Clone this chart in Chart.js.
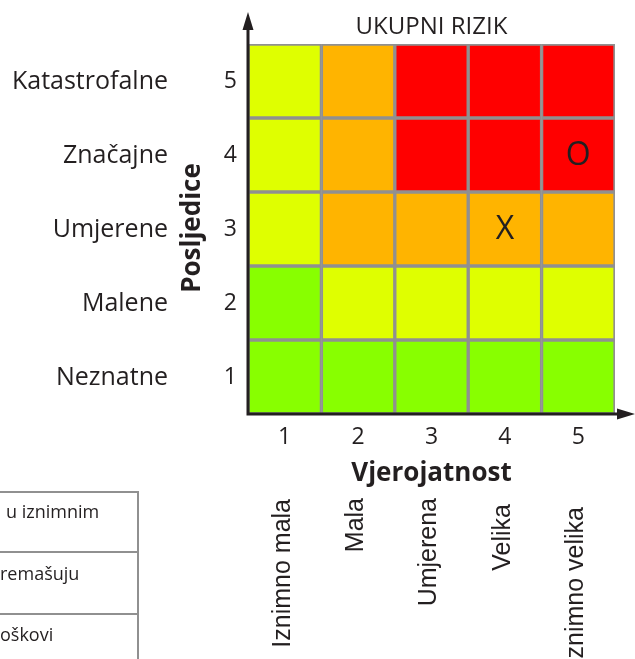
<!DOCTYPE html>
<html><head><meta charset="utf-8">
<script src="https://cdn.jsdelivr.net/npm/chart.js@4/dist/chart.umd.min.js"></script>
<style>html,body{margin:0;padding:0;background:#fff;overflow:hidden}#wrap{width:635px;height:659px;position:relative}</style>
</head><body><div id="wrap"><canvas id="c"></canvas></div>
<script>
const titleText = 'UKUPNI RIZIK';
const xTitle = 'Vjerojatnost';
const yTitle = 'Posljedice';
const probabilityLevels = ['1', '2', '3', '4', '5'];
const probabilityNames = ['Iznimno mala', 'Mala', 'Umjerena', 'Velika', 'Iznimno velika'];
const consequenceLevels = [1, 2, 3, 4, 5];
const consequenceNames = ['Neznatne', 'Malene', 'Umjerene', 'Značajne', 'Katastrofalne'];
// risk class of each cell; one array per consequence level, columns = probability 1..5
const riskRow1 = ['G', 'G', 'G', 'G', 'G'];
const riskRow2 = ['G', 'Y', 'Y', 'Y', 'Y'];
const riskRow3 = ['Y', 'O', 'O', 'O', 'O'];
const riskRow4 = ['Y', 'O', 'R', 'R', 'R'];
const riskRow5 = ['Y', 'O', 'R', 'R', 'R'];
const markerLabels = ['X', 'O'];
const markerProbability = ['4', '5'];
const markerConsequence = [3, 4];
const tableTexts = ['u iznimnim', 'remašuju', 'oškovi'];

const palette = { G: '#88ff00', Y: '#dfff00', O: '#ffb400', R: '#ff0000' };
const riskRows = [riskRow1, riskRow2, riskRow3, riskRow4, riskRow5];
const INK = '#231f20';
const FONT = '"Open Sans"';
const nameTops = [499, 498, 498, 504, 507]; // layout: top end of each rotated label

const datasets = consequenceLevels.map((lvl, i) => ({
  type: 'bar',
  data: probabilityLevels.map(() => [lvl - 0.5, lvl + 0.5]),
  backgroundColor: riskRows[i].map(k => palette[k]),
  borderColor: '#909090',
  borderWidth: 2,
  borderSkipped: false,
  grouped: false,
  barPercentage: 1,
  categoryPercentage: 1,
  order: 2
}));
datasets.push({
  type: 'scatter',
  data: markerLabels.map((l, i) => ({ x: markerProbability[i], y: markerConsequence[i] })),
  pointRadius: 0,
  showLine: false,
  order: 1
});

const deco = {
  id: 'deco',
  afterDraw(chart) {
    const ctx = chart.ctx, a = chart.chartArea;
    const xs = chart.scales.x, ys = chart.scales.y;
    ctx.save();
    ctx.fillStyle = INK;
    // axes with arrows
    ctx.strokeStyle = INK; ctx.lineWidth = 3;
    ctx.beginPath();
    ctx.moveTo(a.left, a.bottom + 1.5); ctx.lineTo(a.left, 28);
    ctx.moveTo(a.left - 1.5, a.bottom); ctx.lineTo(620, a.bottom);
    ctx.stroke();
    ctx.beginPath();
    ctx.moveTo(a.left, 12); ctx.lineTo(a.left - 5.5, 30); ctx.lineTo(a.left + 5.5, 30); ctx.closePath();
    ctx.moveTo(635, a.bottom); ctx.lineTo(617, a.bottom - 5.5); ctx.lineTo(617, a.bottom + 5.5); ctx.closePath();
    ctx.fill();
    // title
    ctx.textAlign = 'center'; ctx.textBaseline = 'middle';
    ctx.font = '24px ' + FONT;
    ctx.fillText(titleText, (a.left + a.right) / 2, 27);
    // markers
    const meta = chart.getDatasetMeta(chart.data.datasets.length - 1);
    ctx.font = '32px ' + FONT;
    meta.data.forEach((p, i) => ctx.fillText(markerLabels[i], p.x, p.y + 1));
    // x title
    ctx.font = 'bold 26px ' + FONT;
    ctx.fillText(xTitle, (a.left + a.right) / 2, 474);
    // y title
    ctx.save();
    ctx.translate(193, 228); ctx.rotate(-Math.PI / 2);
    ctx.fillText(yTitle, 0, 0);
    ctx.restore();
    // consequence names
    ctx.font = '25px ' + FONT; ctx.textAlign = 'right';
    consequenceLevels.forEach((lvl, i) => ctx.fillText(consequenceNames[i], 168, ys.getPixelForValue(lvl) + 1));
    // probability names (rotated)
    ctx.font = '25px "Liberation Sans"';
    probabilityLevels.forEach((p, i) => {
      ctx.save();
      ctx.translate(xs.getPixelForValue(i) - 2, nameTops[i]);
      ctx.rotate(-Math.PI / 2);
      ctx.textAlign = 'right'; ctx.textBaseline = 'middle';
      ctx.fillText(probabilityNames[i], 0, 0);
      ctx.restore();
    });
    // partial table bottom-left
    ctx.strokeStyle = '#909090'; ctx.lineWidth = 2;
    ctx.beginPath();
    [492, 552, 614].forEach(y => { ctx.moveTo(0, y); ctx.lineTo(138, y); });
    ctx.moveTo(138, 491); ctx.lineTo(138, 659);
    ctx.stroke();
    ctx.font = '18px ' + FONT; ctx.textAlign = 'left';
    [[6, 513], [0, 575], [0, 636]].forEach((pos, i) => ctx.fillText(tableTexts[i], pos[0], pos[1]));
    ctx.restore();
  }
};

new Chart(document.getElementById('c'), {
  type: 'bar',
  data: { labels: probabilityLevels, datasets },
  options: {
    responsive: true,
    maintainAspectRatio: false,
    animation: false,
    layout: { padding: { top: 44, right: 20, left: 0, bottom: 0 } },
    plugins: { legend: { display: false }, tooltip: { enabled: false } },
    scales: {
      x: {
        type: 'category', offset: true,
        grid: { display: false, drawTicks: false }, border: { display: false },
        ticks: { font: { family: 'Open Sans', size: 23 }, color: INK, padding: 10 },
        afterFit(s) { s.height = 245; }
      },
      y: {
        type: 'linear', min: 0.5, max: 5.5,
        grid: { display: false, drawTicks: false }, border: { display: false },
        afterBuildTicks(s) { s.ticks = consequenceLevels.map(v => ({ value: v })); },
        ticks: { font: { family: 'Open Sans', size: 23 }, color: INK, padding: 11 },
        afterFit(s) { s.width = 248; }
      }
    }
  },
  plugins: [deco]
});
</script></body></html>
